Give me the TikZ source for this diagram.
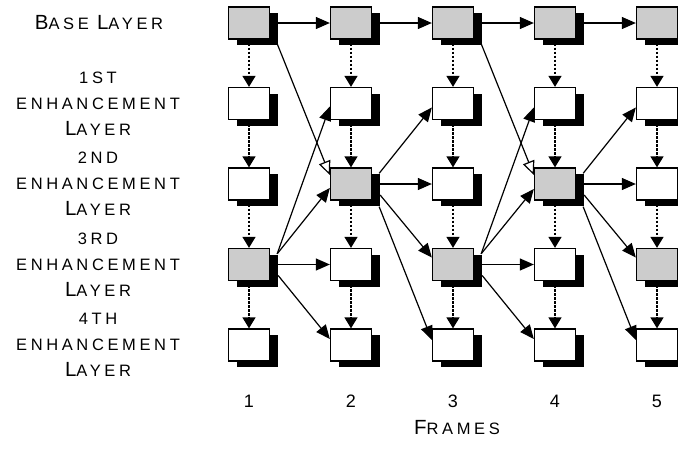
\documentclass[tikz,border=0pt]{standalone}
\usepackage{fontspec}
\setmainfont{Liberation Sans}
\newfontfamily\lblfont[LetterSpace=22]{Liberation Sans}
\usetikzlibrary{arrows.meta,shadows}

% first letter of a small-caps word
\newcommand{\initial}[1]{{\fontsize{20.5}{26}\selectfont #1}}

\tikzset{
  frm/.style={draw, line width=1.3pt, minimum width=41pt, minimum height=32pt,
    inner sep=0pt, fill=white,
    drop shadow={shadow xshift=8pt, shadow yshift=-6pt, fill=black, opacity=1}},
  base/.style={frm, fill=black!20},
  pred/.style={line width=1.2pt, -{Triangle[length=14pt,width=12pt]}},
  ref/.style={line width=1.2pt, -{Triangle[length=14pt,width=12pt,fill=white]}},
  dep/.style={line width=1.3pt, dash pattern=on 2.5pt off 1.5pt,
    -{Triangle[length=11pt,width=13pt]}},
  lbl/.style={font=\lblfont\fontsize{16.5}{26}\selectfont, align=center}
}

\begin{document}
\begin{tikzpicture}[x=1pt,y=-1pt]
  \useasboundingbox (0,0) rectangle (678,448);

  % frames, one row per layer
  \foreach \r/\styles in {1/{base,base,base,base,base},
                          2/{frm,frm,frm,frm,frm},
                          3/{frm,base,frm,base,frm},
                          4/{base,frm,base,frm,base},
                          5/{frm,frm,frm,frm,frm}}
    \foreach \s [count=\c] in \styles
      \node[\s] (f\c-\r) at ({249+102*(\c-1)},{23+80.5*(\r-1)}) {};

  % layer to layer
  \foreach \c in {1,...,5}
    \foreach \r [count=\n from 2] in {1,...,4}
      \draw[dep] (f\c-\r.south) -- (f\c-\n.north);

  % base layer chain
  \foreach \c [count=\n from 2] in {1,...,4}
    \draw[pred] ([xshift=8pt]f\c-1.east) -- (f\n-1.west);

  % straight across
  \draw[pred] ([xshift=8pt]f1-4.east) -- (f2-4.west);
  \draw[pred] ([xshift=8pt]f2-3.east) -- (f3-3.west);
  \draw[pred] ([xshift=8pt]f3-4.east) -- (f4-4.west);
  \draw[pred] ([xshift=8pt]f4-3.east) -- (f5-3.west);

  % upwards
  \draw[pred] ([xshift=7pt,yshift=-6pt]f1-4.north east) -- ([yshift=-3pt]f2-2.west);
  \draw[pred] ([xshift=7pt,yshift=-6pt]f1-4.north east) -- ([yshift=-4pt]f2-3.west);
  \draw[pred] ([xshift=7pt,yshift=-6pt]f2-3.north east) -- ([yshift=-4pt]f3-2.west);
  \draw[pred] ([xshift=7pt,yshift=-6pt]f3-4.north east) -- ([yshift=-4pt]f4-2.west);
  \draw[pred] ([xshift=7pt,yshift=-6pt]f3-4.north east) -- ([yshift=-5pt]f4-3.west);
  \draw[pred] ([xshift=7pt,yshift=-6pt]f4-3.north east) -- ([yshift=-4pt]f5-2.west);

  % downwards
  \draw[pred] ([xshift=8pt,yshift=-11pt]f1-4.east) -- ([yshift=6pt]f2-5.west);
  \draw[pred] ([xshift=8pt,yshift=-11pt]f2-3.east) -- ([yshift=7pt]f3-4.west);
  \draw[pred] ([xshift=8pt,yshift=-11pt]f3-4.east) -- ([yshift=6pt]f4-5.west);
  \draw[pred] ([xshift=8pt,yshift=-11pt]f4-3.east) -- ([yshift=7pt]f5-4.west);
  \draw[pred] ([xshift=7pt,yshift=-6pt]f2-3.south east) -- ([yshift=5pt]f3-5.west);
  \draw[pred] ([xshift=7pt,yshift=-6pt]f4-3.south east) -- ([yshift=5pt]f5-5.west);

  % from the base layer
  \draw[ref] ([xshift=7pt,yshift=-4pt]f1-1.south east) -- ([yshift=9pt]f2-3.west);
  \draw[ref] ([xshift=7pt,yshift=-4pt]f3-1.south east) -- ([yshift=9pt]f4-3.west);

  % layer names
  \node[lbl] (l0) at (99,23) {\initial{B}ASE \initial{L}AYER};
  \node[lbl] (l1) at (98,104) {1ST\\ENHANCEMENT\\\initial{L}AYER};
  \node[lbl] (l2) at (98,184) {2ND\\ENHANCEMENT\\\initial{L}AYER};
  \node[lbl] (l3) at (98,265) {3RD\\ENHANCEMENT\\\initial{L}AYER};
  \node[lbl] (l4) at (98,345) {4TH\\ENHANCEMENT\\\initial{L}AYER};

  % frame numbers
  \foreach \c in {1,...,5}
    \node[font=\fontsize{18}{20}\selectfont] (n\c) at ({249+102*(\c-1)},401) {\c};
  \node[lbl] (frames) at (457,428) {\initial{F}RAMES};
\end{tikzpicture}
\end{document}
